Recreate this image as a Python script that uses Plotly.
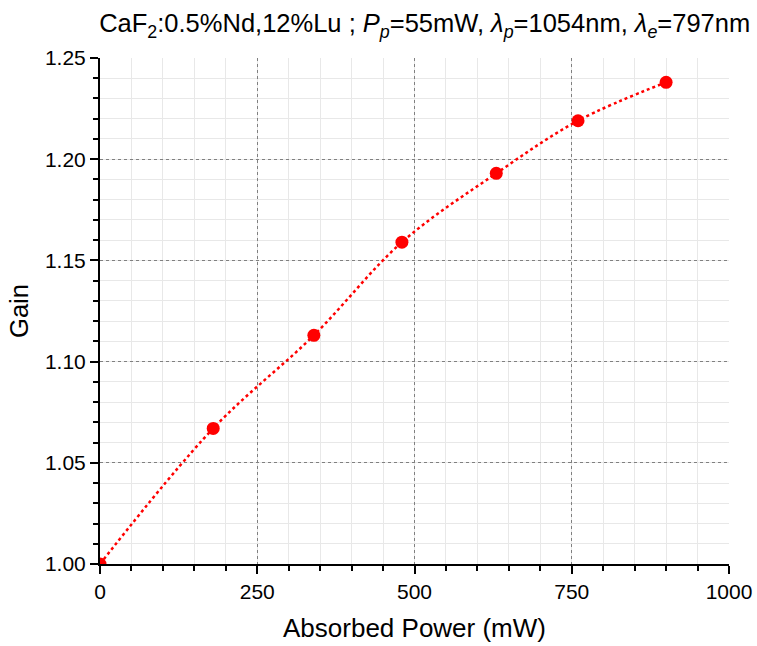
import plotly.graph_objects as go

power_mw = [0, 180, 340, 480, 630, 760, 900]
gain = [1.000, 1.067, 1.113, 1.159, 1.193, 1.219, 1.238]

x_ticks = [0, 250, 500, 750, 1000]
y_ticks = [1.00, 1.05, 1.10, 1.15, 1.20, 1.25]
y_tick_text = ["1.00", "1.05", "1.10", "1.15", "1.20", "1.25"]

title_text = ("CaF<sub>2</sub>:0.5%Nd,12%Lu ; <i>P</i><sub><i>p</i></sub>=55mW, "
              "<i>λ</i><sub><i>p</i></sub>=1054nm, <i>λ</i><sub><i>e</i></sub>=797nm")

fig = go.Figure()
fig.add_trace(go.Scatter(
    x=power_mw, y=gain, mode="lines+markers",
    line=dict(color="#ff0000", width=2.5, dash="dot", shape="spline"),
    marker=dict(color="#ff0000", size=13),
    showlegend=False,
))

font = "Liberation Sans, Arial, sans-serif"
fig.update_layout(
    width=757, height=646,
    margin=dict(l=100, r=28, t=58, b=82, autoexpand=False),
    paper_bgcolor="white", plot_bgcolor="white",
    font=dict(family=font, color="black"),
    title=dict(text=title_text, x=0.561, xanchor="center", y=0.964, yanchor="middle",
               xref="container", yref="container", font=dict(size=25.5, family=font)),
)
fig.update_xaxes(
    range=[0, 1000], tickvals=x_ticks, automargin=False,
    showline=True, linecolor="black", linewidth=2,
    ticks="outside", ticklen=8, tickwidth=2, tickcolor="black",
    tickfont=dict(size=21), ticklabeloverflow="allow",
    title=dict(text="Absorbed Power (mW)", font=dict(size=26), standoff=17),
    showgrid=True, gridcolor="#808080", griddash="dot", gridwidth=1,
    zeroline=False,
    minor=dict(dtick=50, ticks="outside", ticklen=5, tickwidth=1.5, tickcolor="black",
               showgrid=True, gridcolor="#e8e8e8", gridwidth=1, griddash="solid"),
)
fig.update_yaxes(
    range=[1.0, 1.25], tickvals=y_ticks, ticktext=y_tick_text, automargin=False,
    showline=True, linecolor="black", linewidth=2,
    ticks="outside", ticklen=8, tickwidth=2, tickcolor="black",
    tickfont=dict(size=21),
    title=dict(text="Gain", font=dict(size=25.5), standoff=9),
    showgrid=True, gridcolor="#808080", griddash="dot", gridwidth=1,
    zeroline=False,
    minor=dict(dtick=0.01, tick0=1.0, ticks="outside", ticklen=5, tickwidth=1.5, tickcolor="black",
               showgrid=True, gridcolor="#e8e8e8", gridwidth=1, griddash="solid"),
)

fig.write_html(
    "out.html",
    config={"displayModeBar": False},
    post_script="document.body.style.margin='0px'; document.body.style.overflow='hidden';",
)
